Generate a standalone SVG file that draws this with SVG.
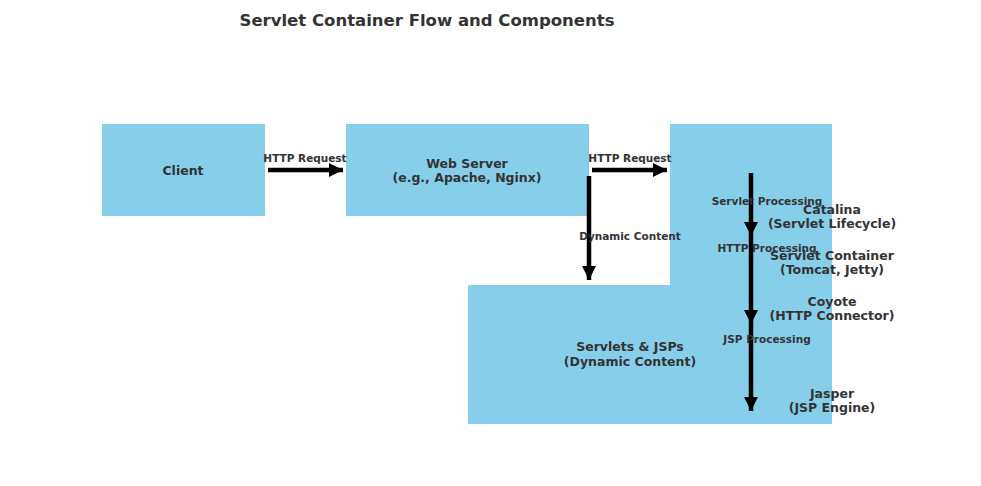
<svg xmlns="http://www.w3.org/2000/svg" width="981" height="486" viewBox="0 0 981 486">
<style>
.box{fill:#87ceeb;}
.t{font-family:"DejaVu Sans",sans-serif;font-weight:bold;fill:#333;text-anchor:middle;}
.n{font-size:12.5px;}
.e{font-size:10.5px;}
.c{stroke:#000;stroke-width:4.5;fill:none;}
</style>
<defs>
<marker id="ah" markerUnits="userSpaceOnUse" markerWidth="16" markerHeight="16" refX="14" refY="7" orient="auto">
<path d="M0,0 L14,7 L0,14 Z" fill="#000"/>
</marker>
</defs>
<rect width="981" height="486" fill="#fff"/>
<text class="t" x="427" y="26" font-size="16.5">Servlet Container Flow and Components</text>
<g id="client"><rect class="box" x="102" y="124" width="163" height="92"/><text class="t n" x="183" y="175">Client</text></g>
<g id="webserver"><rect class="box" x="346" y="124" width="243" height="92"/><text class="t n" x="467" y="168">Web Server</text><text class="t n" x="467" y="182">(e.g., Apache, Nginx)</text></g>
<g id="container"><rect class="box" x="670" y="124" width="162" height="300"/></g>
<g id="servlets"><rect class="box" x="468" y="285" width="364" height="139"/><text class="t n" x="630" y="351">Servlets &amp; JSPs</text><text class="t n" x="630" y="366">(Dynamic Content)</text></g>
<g id="connectors">
<line class="c" x1="268" y1="170" x2="343" y2="170" marker-end="url(#ah)"/>
<line class="c" x1="592" y1="170" x2="667" y2="170" marker-end="url(#ah)"/>
<line class="c" x1="589" y1="176" x2="589" y2="280" marker-end="url(#ah)"/>
<line class="c" x1="751" y1="173" x2="751" y2="236" marker-end="url(#ah)"/>
<line class="c" x1="751" y1="236" x2="751" y2="324" marker-end="url(#ah)"/>
<line class="c" x1="751" y1="324" x2="751" y2="411" marker-end="url(#ah)"/>
<text class="t e" x="305" y="162">HTTP Request</text>
<text class="t e" x="630" y="162">HTTP Request</text>
<text class="t e" x="630" y="240">Dynamic Content</text>
<text class="t e" x="767" y="205">Servlet Processing</text>
<text class="t e" x="767" y="252">HTTP Processing</text>
<text class="t e" x="767" y="343">JSP Processing</text>
</g>
<g id="labels">
<text class="t n" x="832" y="214">Catalina</text><text class="t n" x="832" y="228">(Servlet Lifecycle)</text>
<text class="t n" x="832" y="260">Servlet Container</text><text class="t n" x="832" y="274">(Tomcat, Jetty)</text>
<text class="t n" x="832" y="306">Coyote</text><text class="t n" x="832" y="320">(HTTP Connector)</text>
<text class="t n" x="832" y="398">Jasper</text><text class="t n" x="832" y="412">(JSP Engine)</text>
</g>
</svg>
